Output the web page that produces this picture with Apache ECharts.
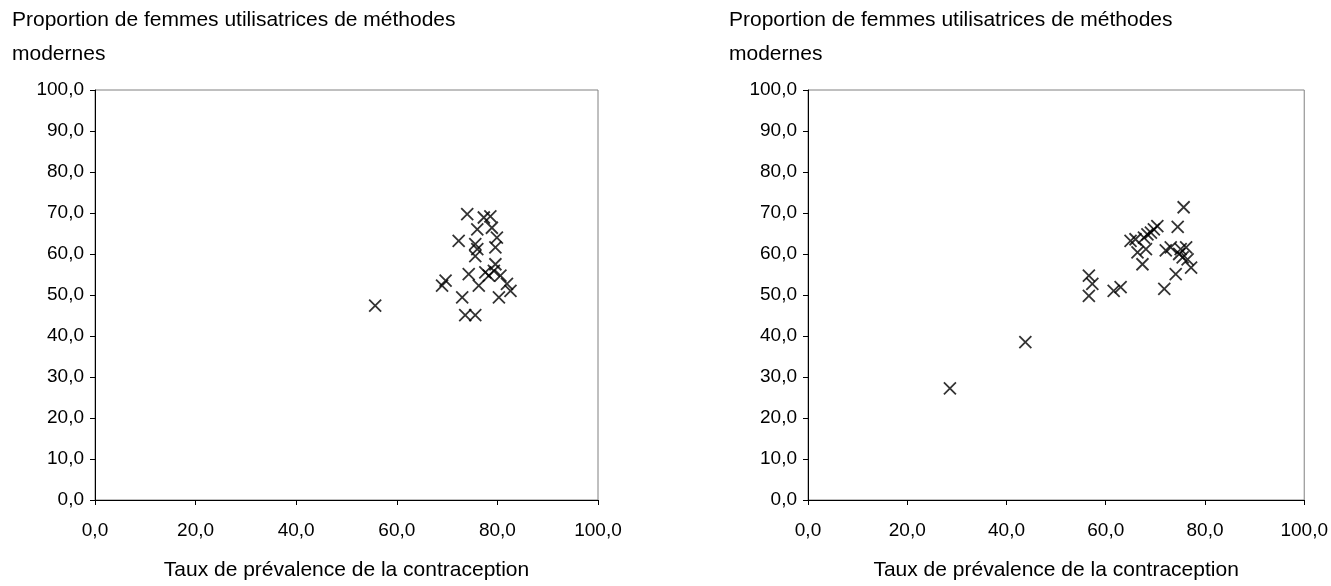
<!DOCTYPE html>
<html>
<head>
<meta charset="utf-8">
<script src="https://cdn.jsdelivr.net/npm/echarts@6/dist/echarts.min.js"></script>
<style>
  html, body { margin: 0; padding: 0; background: #fff; }
  #chart { width: 1331px; height: 586px; }
</style>
</head>
<body>
<div id="chart"></div>
<script>
  // left panel: [prevalence, modern methods share]
  var leftPoints = [
    [74.0, 69.7], [77.3, 68.9], [78.6, 69.2], [78.9, 66.4], [76.0, 66.0],
    [72.3, 63.2], [79.9, 64.0], [75.6, 62.4], [76.0, 61.2], [75.6, 59.5],
    [79.6, 61.6], [79.6, 57.5], [74.3, 55.1], [77.6, 55.5], [78.3, 54.7],
    [79.3, 55.9], [80.6, 54.7], [76.3, 52.3], [81.9, 52.7], [82.6, 51.0],
    [69.7, 53.5], [69.0, 52.3], [73.0, 49.4], [80.3, 49.4], [73.6, 45.1],
    [75.6, 45.1], [55.7, 47.4]
  ];

  // right panel
  var rightPoints = [
    [75.7, 71.4], [74.5, 66.6], [70.4, 66.8], [69.7, 66.0], [69.1, 65.2],
    [68.4, 64.8], [67.7, 64.0], [65.0, 63.2], [66.0, 63.6], [68.1, 61.2],
    [66.4, 60.4], [67.4, 57.5], [72.1, 60.9], [73.1, 61.6], [75.1, 61.2],
    [76.2, 61.6], [74.8, 60.0], [75.5, 59.2], [76.5, 58.7], [77.2, 56.7],
    [74.1, 55.1], [71.8, 51.5], [63.0, 51.9], [61.6, 51.0], [56.6, 54.7],
    [57.3, 52.7], [56.6, 49.8], [43.8, 38.5], [28.6, 27.2]
  ];

  var yTitle = 'Proportion de femmes utilisatrices de méthodes\nmodernes';
  var xTitle = 'Taux de prévalence de la contraception';

  var font = '"Liberation Sans", Arial, sans-serif';

  function fmt(v) { return v.toFixed(1).replace('.', ','); }

  function xAxis(idx) {
    return {
      gridIndex: idx, type: 'value', min: 0, max: 100, interval: 20,
      name: xTitle, nameLocation: 'middle', nameGap: 60,
      nameTextStyle: { fontFamily: font, fontSize: 21, color: '#000' },
      axisLine: { onZero: false, lineStyle: { color: '#000', width: 1 } },
      axisTick: { length: 5, lineStyle: { color: '#000' } },
      axisLabel: { margin: 21, fontFamily: font, fontSize: 19, color: '#000', formatter: fmt },
      splitLine: { show: false }
    };
  }

  function yAxis(idx) {
    return {
      gridIndex: idx, type: 'value', min: 0, max: 100, interval: 10,
      axisLine: { onZero: false, lineStyle: { color: '#000', width: 1 } },
      axisTick: { length: 5, lineStyle: { color: '#000' } },
      axisLabel: { margin: 11, fontFamily: font, fontSize: 19, color: '#000', formatter: fmt },
      splitLine: { show: false }
    };
  }

  function series(idx, pts) {
    return {
      type: 'scatter', xAxisIndex: idx, yAxisIndex: idx,
      data: pts,
      symbol: 'path://M0,0L10,10M10,0L0,10',
      symbolSize: 12,
      itemStyle: { color: 'none', borderColor: '#000', borderWidth: 1.8 },
      emphasis: { disabled: true },
      silent: true
    };
  }

  var titleStyle = { fontFamily: font, fontSize: 21, fontWeight: 'normal', color: '#000', lineHeight: 34 };

  var chart = echarts.init(document.getElementById('chart'));

  chart.setOption({
    animation: false,
    title: [
      { text: yTitle, left: 12, top: 3, padding: 0, textStyle: titleStyle },
      { text: yTitle, left: 729, top: 3, padding: 0, textStyle: titleStyle }
    ],
    grid: [
      { left: 95, top: 90, width: 503, height: 412, show: true, borderColor: '#808080', borderWidth: 1, backgroundColor: '#fff' },
      { left: 808, top: 90, width: 497, height: 412, show: true, borderColor: '#808080', borderWidth: 1, backgroundColor: '#fff' }
    ],
    xAxis: [xAxis(0), xAxis(1)],
    yAxis: [yAxis(0), yAxis(1)],
    series: [series(0, leftPoints), series(1, rightPoints)]
  });
</script>
</body>
</html>
